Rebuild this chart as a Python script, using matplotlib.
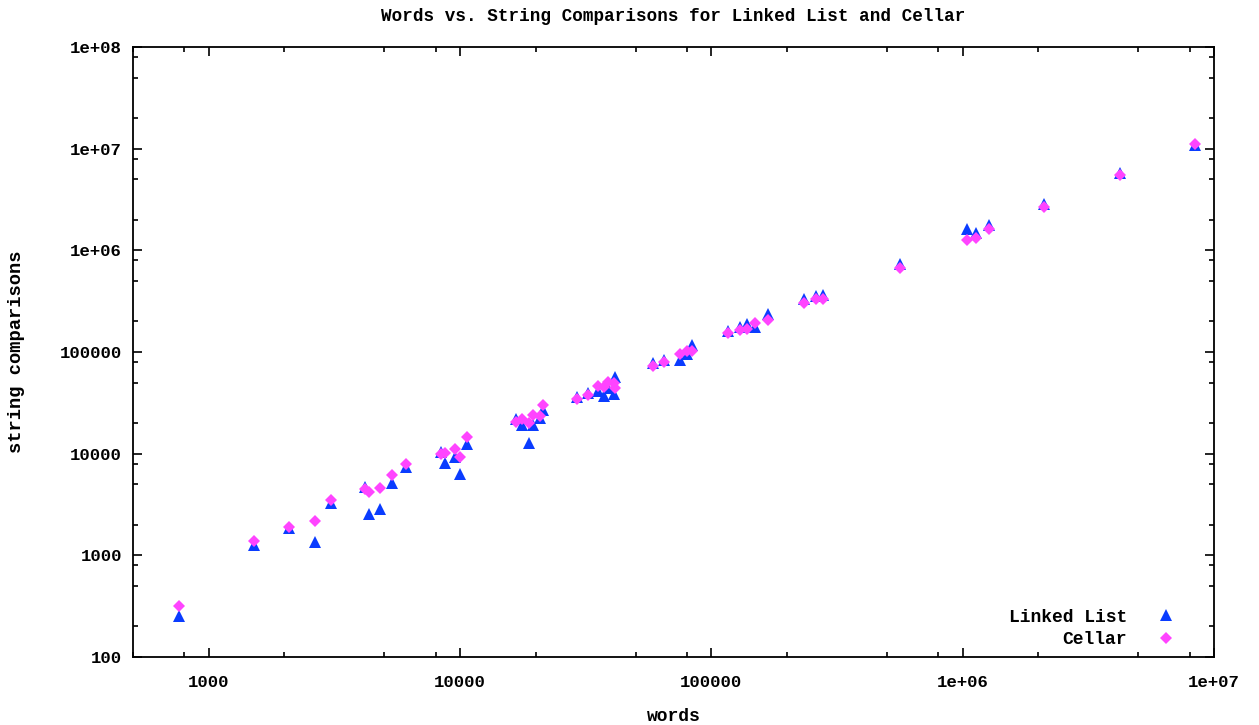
import matplotlib
matplotlib.use('Agg')
import matplotlib.pyplot as plt
from matplotlib.ticker import LogLocator, FixedLocator, FixedFormatter, NullFormatter

plt.rcParams['font.family'] = ['Liberation Mono', 'DejaVu Sans Mono']
plt.rcParams['font.weight'] = 'bold'

# words per run
words = [759, 1520, 2083, 2655, 3055, 4188, 4355, 4800, 5345, 6080,
         8380, 8720, 9560, 10000, 10690, 16670, 17580, 18750, 19600, 20840,
         21300, 29170, 32360, 35260, 37500, 38900, 40830, 41400, 58460, 64560,
         75100, 80000, 84000, 116100, 130000, 138700, 149600, 167800, 233500, 261300,
         279400, 561000, 1044000, 1125000, 1270000, 2104000, 4227000, 8400000]

linked_list = [253, 1253, 1840, 1352, 3240, 4670, 2550, 2830, 5110, 7330,
               10450, 8150, 9330, 6290, 12420, 21720, 18970, 12790, 19100, 22500,
               26860, 36300, 39720, 41300, 36800, 43850, 38550, 56230, 77300, 83200,
               84000, 95300, 116900, 161500, 177000, 186700, 177000, 236000, 328800, 354700,
               363000, 731000, 1626000, 1467000, 1770000, 2844000, 5700000, 10800000]

cellar = [318, 1374, 1910, 2158, 3500, 4460, 4160, 4590, 6170, 7910,
          9900, 10070, 11090, 9200, 14450, 20600, 21720, 19860, 23990, 23500,
          30060, 34440, 37690, 46260, 44870, 50580, 49090, 43850, 72600, 79600,
          95300, 102700, 101400, 152400, 164000, 166800, 191000, 206000, 300400, 331300,
          331300, 673000, 1259000, 1309000, 1614000, 2680000, 5480000, 11000000]

x_ticks = [1e3, 1e4, 1e5, 1e6, 1e7]
x_labels = ['1000', '10000', '100000', '1e+06', '1e+07']
y_ticks = [1e2, 1e3, 1e4, 1e5, 1e6, 1e7, 1e8]
y_labels = ['100', '1000', '10000', '100000', '1e+06', '1e+07', '1e+08']

c_ll = '#0a3cff'
c_cel = '#ff44ff'

fig = plt.figure(figsize=(12.59, 7.25), dpi=100)
ax = fig.add_axes([0.1056, 0.0938, 0.8587, 0.8414])

ax.plot(words, linked_list, linestyle='none', marker='^', markersize=8.5,
        color=c_ll, markeredgewidth=0, label='Linked List')
ax.plot(words, cellar, linestyle='none', marker='D', markersize=6.3,
        color=c_cel, markeredgewidth=0, label='Cellar')

ax.set_xscale('log')
ax.set_yscale('log')
ax.set_xlim(500, 1e7)
ax.set_ylim(100, 1e8)

ax.xaxis.set_major_locator(FixedLocator(x_ticks))
ax.xaxis.set_major_formatter(FixedFormatter(x_labels))
ax.yaxis.set_major_locator(FixedLocator(y_ticks))
ax.yaxis.set_major_formatter(FixedFormatter(y_labels))
ax.xaxis.set_minor_locator(LogLocator(base=10, subs=[2, 5, 8]))
ax.yaxis.set_minor_locator(LogLocator(base=10, subs=[2, 5, 8]))
ax.xaxis.set_minor_formatter(NullFormatter())
ax.yaxis.set_minor_formatter(NullFormatter())

ax.tick_params(which='both', direction='in', top=True, right=True, width=1.2)
ax.tick_params(which='major', length=6.5, labelsize=12.5)
ax.tick_params(axis='x', which='major', pad=13)
ax.tick_params(axis='y', which='major', pad=8)
ax.tick_params(which='minor', length=3.5)
for s in ax.spines.values():
    s.set_linewidth(1.3)

ax.set_title('Words vs. String Comparisons for Linked List and Cellar',
             fontsize=12.7, fontweight='bold', pad=19)
ax.set_xlabel('words', fontsize=13, fontweight='bold', labelpad=13)
ax.set_ylabel('string comparisons', fontsize=13.5, fontweight='bold', labelpad=25)

# legend: labels right-aligned, markers on the right
leg = ax.legend(loc='lower right', bbox_to_anchor=(0.978, -0.003), frameon=False,
                markerfirst=False, fontsize=13, handletextpad=1.4,
                borderaxespad=0.2, labelspacing=0.3, handlelength=1.5)
for t in leg.get_texts():
    t.set_ha('right')

fig.savefig('out.png', dpi=100)
